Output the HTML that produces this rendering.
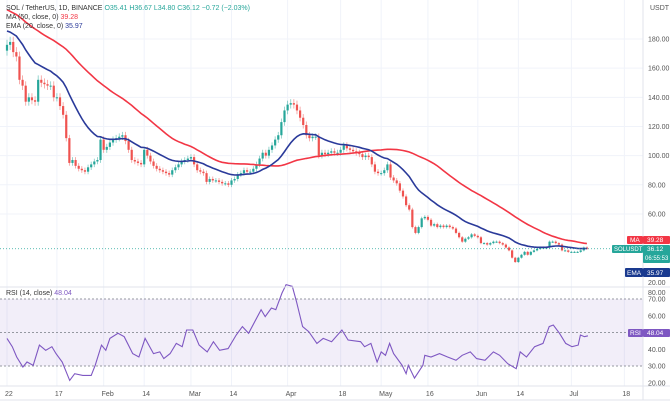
<!DOCTYPE html>
<html><head><meta charset="utf-8">
<style>
html,body{margin:0;padding:0;background:#fff;}
body{width:670px;height:406px;overflow:hidden;font-family:"Liberation Sans",sans-serif;}
svg text{font-family:"Liberation Sans",sans-serif;}
</style></head>
<body>
<svg id="chart" width="670" height="406" viewBox="0 0 670 406" xmlns="http://www.w3.org/2000/svg">
<g id="grid"></g>
<g id="rsiPane"></g>
<g id="candles"></g>
<g id="lines"></g>
<g id="axes"></g>
<g id="labels"></g>
</svg>
<script>
// ---- data ----
const priorCloses = [236,232,228,225,230,234,229,222,218,214,220,224,217,212,208,204,210,206,200,196,
  205,210,214,208,202,199,195,190,193,197,192,188,185,190,186,182,178,184,188,183,
  180,186,190,185,181,179,183,187,182,178];
const closes = [176,178,171,168,152,148,137,140,138,137,
  152,150,149,148,148,140,140,134,128,112,
  95,97,93,91,90,89,92,94,96,97,
  111,104,106,109,111,112,113,114,110,104,
  97,96,95,94,104,100,96,93,91,90,
  89,88,87,90,92,94,96,97,98,99,
  94,90,89,88,82,84,83,83,82,81,
  81,80,83,84,87,88,90,89,89,91,
  94,98,102,100,104,107,111,114,123,131,
  135,136,135,131,126,121,114,112,113,113,
  100,102,101,102,103,102,102,104,107,105,
  104,103,102,101,99,100,99,94,89,88,
  88,90,94,85,83,81,76,72,66,63,
  51,47,51,57,58,56,52,53,51,52,
  51,52,51,50,47,44,41,43,44,46,
  45,44,40,40,39,40,41,41,40,39,
  37,35,30,27,30,32,34,32,34,35,
  36,37,37,37,41,41,40,39,35,35,
  34,34,34,34,35,37,36.12];
const rsiDays = [0,1.7,3.1,5.1,6.4,8.4,10.4,12.4,14.4,15.7,17.7,20.1,21.7,24.3,27,28.3,30.3,31.7,33,35.6,
  37.6,40.3,42.3,44.3,47,49,50.3,52.3,54.3,56.2,57.6,59.6,61.6,64.2,66.2,68.2,70.9,73.5,75.5,77.5,
  81.5,82.8,84.8,86.2,88.2,89.5,91.5,92.8,94.8,96.8,99.4,101.4,104.1,107.4,109.4,113.4,114.7,116.7,118.7,120,
  121.4,122.7,124,126.7,128,128.7,130.7,133.4,134,136,138.7,141.3,144,146,148.6,150.6,153.3,156,158,160.6,
  163.3,164.6,166.6,169.2,171.9,173.9,175.2,177.2,179.2,181.2,183.2,183.9,185.2,186.3];
const rsiValues = [46.5,41.5,35.4,29.4,32.4,30.4,42.5,39.4,41.5,37.4,32.4,21.4,25.4,24.4,24.4,30.4,42.5,39.4,46.5,49.5,
  47.5,37.4,35.4,46.5,37.4,38.4,34.4,37.4,43.5,41.5,51.5,51.5,42.5,38.4,44.5,39.4,40.4,48.5,53.5,49.5,
  63.6,59.5,64.6,63.6,73.6,78.6,77.6,68.6,53.5,50.5,43.5,46.5,44.5,51.5,45.5,44.5,41.5,43.5,32.4,38.4,
  36.4,43.5,37.4,30.4,25.4,30.4,22.8,30.4,36.4,35.4,37.4,35.4,33.4,36.4,38.4,34.4,33.4,38.4,36.4,31.4,
  28.4,38.4,35.4,41.5,43.5,53.5,54.5,49.5,43.5,41.5,42.5,48.5,47.5,48.04];
const priceTicks = [180,160,140,120,100,80,60];
const priceTickLabels = ["180.00","160.00","140.00","120.00","100.00","80.00","60.00"];
const rsiTicks = [70,60,50,40,30,20];
const dateTickDays = [0,16,31,44,59,72,90,107,120,135,151,164,181,198];
const dateTickLabels = ["22","17","Feb","14","Mar","14","Apr","18","May","16","Jun","14","Jul","18"];

// ---- scales ----
const xDay = d => 7 + d*3.118;
const yP = p => 39 + (180-p)*1.458;
const yR = r => 299 + (70-r)*1.675;
const NS = "http://www.w3.org/2000/svg";
function mk(tag, attrs, parent){const e=document.createElementNS(NS,tag);for(const k in attrs)e.setAttribute(k,attrs[k]);parent.appendChild(e);return e;}
const G = id => document.getElementById(id);

// grid
dateTickDays.forEach(d=>{
  const l=mk('line',{x1:xDay(d),x2:xDay(d),y1:0,y2:386,stroke:'#f0f3fa','stroke-width':1},G('grid'));
  
  
});
priceTicks.forEach(p=>{
  const l=mk('line',{x1:0,x2:643,y1:yP(p),y2:yP(p),stroke:'#f0f3fa','stroke-width':1},G('grid'));
  
  
});

// RSI pane band
const band=mk('rect',{x:0,y:yR(70),width:643,height:yR(30)-yR(70),fill:'#7e57c2','fill-opacity':0.1},G('rsiPane'));


[70,50,30].forEach(r=>{
  const l=mk('line',{x1:0,x2:643,y1:yR(r),y2:yR(r),stroke:'#9598a1','stroke-width':1,'stroke-dasharray':'2,2'},G('rsiPane'));
  
  
});

// candles
const opens = closes.map((c,i)=> i===0 ? priorCloses[priorCloses.length-1]-6 : closes[i-1]);
closes.forEach((c,i)=>{
  const o=opens[i], up=c>=o, col=up?'#26a69a':'#ef5350';
  const x=xDay(i);
  const hi=Math.max(o,c)*1.02, lo=Math.min(o,c)*0.98;
  const w=mk('line',{x1:x,x2:x,y1:yP(hi),y2:yP(lo),stroke:col,'stroke-width':0.8,'stroke-opacity':0.6},G('candles'));
  
  
  const top=yP(Math.max(o,c)), h=Math.max(1,yP(Math.min(o,c))-top);
  const b=mk('rect',{x:x-1.1,y:top,width:2.2,height:h,fill:col},G('candles'));
  
  
});

// indicators
const all = priorCloses.concat(closes);
const P = priorCloses.length;
let ema=[], e=all.slice(0,20).reduce((a,b)=>a+b,0)/20;
const k=2/21;
for(let i=20;i<all.length;i++){e=all[i]*k+e*(1-k);if(i>=P)ema.push(e);}
let sma=[];
for(let i=P;i<all.length;i++){let s=0;for(let j=i-49;j<=i;j++)s+=all[j];sma.push(s/50);}
function path(arr,yf){return arr.map((v,i)=>(i?'L':'M')+xDay(i).toFixed(1)+','+yf(v).toFixed(1)).join('');}
const smaL=mk('path',{d:path(sma,yP),fill:'none',stroke:'#f23645','stroke-width':1.6},G('lines'));


const emaL=mk('path',{d:path(ema,yP),fill:'none',stroke:'#2a3a9a','stroke-width':1.6},G('lines'));


const rsiD=rsiValues.map((v,i)=>(i?'L':'M')+xDay(rsiDays[i]).toFixed(1)+','+yR(v).toFixed(1)).join('');
const rsiL=mk('path',{d:rsiD,fill:'none',stroke:'#7e57c2','stroke-width':1.1},G('lines'));


const last=closes[closes.length-1];
const cur=mk('line',{x1:0,x2:643,y1:yP(last),y2:yP(last),stroke:'#26a69a','stroke-width':0.8,'stroke-dasharray':'1,2'},G('lines'));



// axes
const ax=G('axes');
[[643,0,643,400],[0,287,670,287],[0,386,670,386],[0,400,670,400]].forEach(a=>{
  const l=mk('line',{x1:a[0],y1:a[1],x2:a[2],y2:a[3],stroke:'#e0e3eb','stroke-width':1},ax);
  
  
});
function txt(s,x,y,attrs,name,parent){const t=mk('text',Object.assign({x:x,y:y,'font-size':7,fill:'#555'},attrs||{}),parent||ax);t.textContent=s;return t;}
txt('USDT',650,10,{},'price-axis-unit');
priceTicks.forEach((p,i)=>txt(priceTickLabels[i],648,yP(p)+2.5,{},'price-tick-label'));
txt('20.00',648,285,{},'price-tick-label');
txt('80.00',648,295,{},'rsi-tick-label');
rsiTicks.forEach(r=>txt(r.toFixed(2),648,yR(r)+2.5,{},'rsi-tick-label'));
dateTickDays.forEach((d,i)=>txt(dateTickLabels[i],xDay(d)-2,396,{},'date-tick-label'));

// labels
const lb=G('labels');
function box(x,y,w,h,fill,name){const r=mk('rect',{x:x,y:y,width:w,height:h,fill:fill,rx:1},lb);}
box(627,236,16,8,'#f23645','ma-tag');txt('MA',630,242,{fill:'#fff','font-size':6.5},'ma-tag-text',lb);
box(643,236,27,8,'#f23645','ma-value-tag');txt('39.28',647,242,{fill:'#fff','font-size':6.5},'ma-value-text',lb);
box(612,245,31,8,'#26a69a','symbol-tag');txt('SOLUSDT',614,251,{fill:'#fff','font-size':6},'symbol-tag-text',lb);
box(643,245,27,18,'#26a69a','last-price-tag');txt('36.12',647,251,{fill:'#fff','font-size':6.5},'last-price-text',lb);
txt('06:55:53',645,260,{fill:'#fff','font-size':6},'countdown-text',lb);
box(625,268,18,9,'#1a3a8f','ema-tag');txt('EMA',627,275,{fill:'#fff','font-size':6.5},'ema-tag-text',lb);
box(643,268,27,9,'#1a3a8f','ema-value-tag');txt('35.97',647,275,{fill:'#fff','font-size':6.5},'ema-value-text',lb);
box(628,329,15,8,'#7e57c2','rsi-tag');txt('RSI',630,335,{fill:'#fff','font-size':6.5},'rsi-tag-text',lb);
box(643,329,27,8,'#7e57c2','rsi-value-tag');txt('48.04',647,335,{fill:'#fff','font-size':6.5},'rsi-value-text',lb);

// legend
const t1=txt('',6,10,{'font-size':7},'symbol-legend',lb);
t1.innerHTML='<tspan fill="#333">SOL / TetherUS, 1D, BINANCE </tspan><tspan fill="#26a69a">O35.41 H36.67 L34.80 C36.12 −0.72 (−2.03%)</tspan>';
const t2=txt('',6,19,{'font-size':7},'ma-legend',lb);
t2.innerHTML='<tspan fill="#333">MA (50, close, 0) </tspan><tspan fill="#f23645">39.28</tspan>';
const t3=txt('',6,28,{'font-size':7},'ema-legend',lb);
t3.innerHTML='<tspan fill="#333">EMA (20, close, 0) </tspan><tspan fill="#2a3a9a">35.97</tspan>';
const t4=txt('',6,295,{'font-size':7},'rsi-legend',lb);
t4.innerHTML='<tspan fill="#333">RSI (14, close) </tspan><tspan fill="#7e57c2">48.04</tspan>';
</script>
</body></html>
